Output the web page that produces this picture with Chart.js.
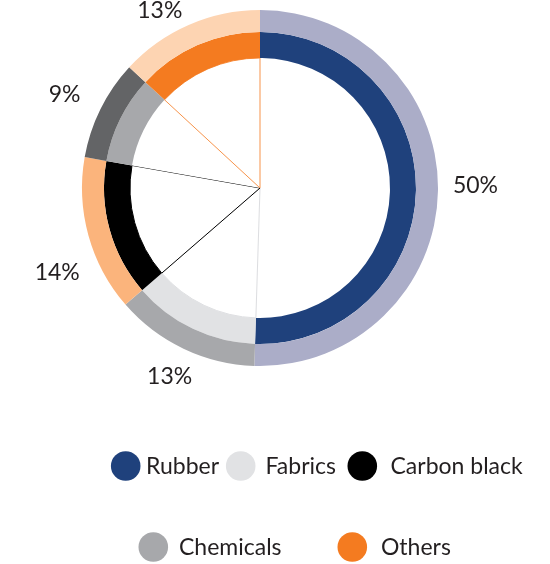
<!DOCTYPE html>
<html>
<head>
<meta charset="utf-8">
<script src="https://cdn.jsdelivr.net/npm/chart.js@4/dist/chart.umd.min.js"></script>
<style>
  html, body { margin: 0; padding: 0; background: #ffffff; }
  #wrap { position: relative; width: 550px; height: 564px; }
</style>
</head>
<body>
<div id="wrap"><canvas id="c" width="550" height="564"></canvas></div>
<script>
// Material composition shares (%)
const categories = ['Rubber', 'Fabrics', 'Carbon black', 'Chemicals', 'Others'];
const shares = [50, 13, 14, 9, 13];
const shareLabels = ['50%', '13%', '14%', '9%', '13%'];

// Palette: inner (main) ring, outer (tint) ring, and radial guide lines
const mainColors  = ['#1f417c', '#e1e2e4', '#000000', '#a7a8ab', '#f47b20'];
const tintColors  = ['#abadc8', '#a7a8ab', '#fbb47c', '#636466', '#fdd4b2'];
const guideColors = ['#ffffff', '#dcdde0', '#000000', '#ffffff', '#f7934a'];
const guideWidths = [0, 1, 1, 0, 1];

const FONT = "Lato, 'Open Sans', sans-serif";
const TEXT = '#231f20';

// Percentage labels placed just outside each slice
const labelNudge = [[3, -6], [1, -3], [2, 28], [-5, 1], [-15, 17]];
const sliceLabels = {
  id: 'sliceLabels',
  afterDatasetsDraw(chart) {
    const ctx = chart.ctx;
    const arcs = chart.getDatasetMeta(0).data;
    ctx.save();
    ctx.font = '23px ' + FONT;
    ctx.fillStyle = TEXT;
    ctx.textAlign = 'center';
    ctx.textBaseline = 'middle';
    arcs.forEach((arc, i) => {
      const p = arc.getProps(['x', 'y', 'startAngle', 'endAngle', 'outerRadius'], true);
      const mid = (p.startAngle + p.endAngle) / 2;
      const r = p.outerRadius + 34.5;
      const x = p.x + Math.cos(mid) * r + labelNudge[i][0];
      const y = p.y + Math.sin(mid) * r + labelNudge[i][1];
      ctx.fillText(shareLabels[i], x, y);
    });
    ctx.restore();
  }
};

// Two-row legend with round swatches
const legendSlots = [
  { cx: 125.7, cy: 466, tx: 146 },
  { cx: 240.7, cy: 466, tx: 265.5 },
  { cx: 362.3, cy: 466, tx: 390.5 },
  { cx: 153.3, cy: 547, tx: 179 },
  { cx: 352.3, cy: 547, tx: 381 }
];
const roundLegend = {
  id: 'roundLegend',
  afterDraw(chart) {
    const ctx = chart.ctx;
    ctx.save();
    ctx.font = '23px ' + FONT;
    ctx.textBaseline = 'middle';
    ctx.textAlign = 'left';
    chart.data.labels.forEach((label, i) => {
      const s = legendSlots[i];
      ctx.beginPath();
      ctx.arc(s.cx, s.cy, 14.8, 0, Math.PI * 2);
      ctx.fillStyle = mainColors[i];
      ctx.fill();
      ctx.fillStyle = TEXT;
      ctx.fillText(label, s.tx, s.cy + 1);
    });
    ctx.restore();
  }
};

new Chart(document.getElementById('c'), {
  type: 'doughnut',
  data: {
    labels: categories,
    datasets: [
      { data: shares, backgroundColor: tintColors, borderWidth: 0, weight: 22 },
      { data: shares, backgroundColor: mainColors, borderWidth: 0, weight: 26 },
      { data: shares, backgroundColor: '#ffffff', borderColor: guideColors,
        borderWidth: guideWidths, borderAlign: 'center', weight: 130 }
    ]
  },
  options: {
    responsive: false,
    animation: false,
    cutout: 0,
    layout: { padding: { left: 82, right: 112, top: 10, bottom: 198 } },
    plugins: {
      legend: { display: false },
      tooltip: { enabled: false }
    }
  },
  plugins: [sliceLabels, roundLegend]
});
</script>
</body>
</html>
